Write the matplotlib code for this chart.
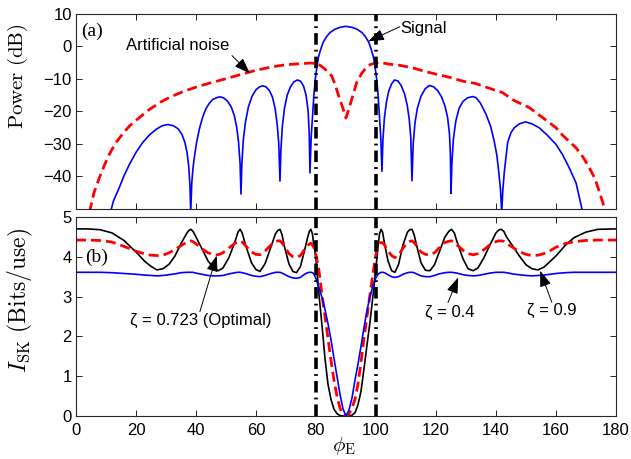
"""
Beam pattern (signal vs. artificial noise) and secret-key rate I_SK
versus eavesdropper angle phi_E, two stacked panels sharing the x axis.
"""

import matplotlib
matplotlib.use("Agg")
import matplotlib.pyplot as plt

# ─── Data ─────────────────────────────────────────────────────────────────────
# panel (a): signal power (dB)
phi_sig = [11.5, 12.5, 14.4, 16.0, 17.8, 20.0, 22.2, 24.5, 26.7, 28.7, 30.6, 32.5,
           34.0, 35.3, 36.3, 37.0, 37.6, 38.0, 38.25,
           38.6, 39.0, 39.4, 40.2, 41.1, 42.2, 43.3, 44.5, 45.6, 47.0, 48.0, 49.2,
           50.5, 51.8, 52.8, 53.6, 54.2, 54.7, 55.0,
           55.3, 55.8, 56.5, 57.5, 58.7, 60.0, 61.2, 62.2, 63.3, 64.5, 65.5, 66.4,
           67.1, 67.6, 68.0,
           68.3, 68.8, 69.5, 70.4, 71.5, 72.6, 73.8, 74.9, 75.9, 76.7, 77.4, 77.75, 78.0,
           78.4, 78.9, 79.3, 79.7, 80.2, 80.8, 81.6, 82.4, 83.5, 84.7, 86.3, 88.0,
           90.0, 92.0, 93.7, 95.3, 96.5, 97.6, 98.4, 99.2, 99.8, 100.3, 100.7, 101.1,
           101.6, 102.0,
           102.3, 102.8, 103.5, 104.3, 105.2, 106.2, 107.3, 108.4, 109.5, 110.4,
           111.1, 111.6, 112.0,
           112.4, 113.0, 113.8, 115.0, 116.4, 117.8, 119.2, 120.6, 121.9, 123.0,
           123.9, 124.5, 124.8, 125.0,
           125.3, 125.8, 126.6, 127.7, 129.0, 130.5, 132.2, 133.3, 134.8, 136.7,
           138.2, 139.4, 140.3, 140.9, 141.5, 141.9,
           142.3, 142.8, 143.9, 145.0, 146.1, 147.8, 149.8, 152.0, 154.4, 157.0,
           160.0, 162.2, 164.4, 166.7, 168.9]
sig_db = [-51.0, -47.5, -43.5, -39.8, -36.3, -32.6, -29.6, -27.2, -25.5, -24.4, -24.0, -24.4,
          -25.3, -27.0, -29.5, -32.5, -37.0, -43.0, -51.0,
          -42.0, -37.5, -34.5, -29.5, -25.5, -21.8, -19.2, -17.4, -16.3, -15.7, -15.5, -15.8,
          -16.8, -18.7, -21.3, -25.0, -29.5, -36.0, -45.4,
          -36.0, -28.5, -23.2, -18.5, -15.3, -13.3, -12.4, -12.1, -12.4, -13.6, -15.6, -19.2,
          -24.2, -30.0, -41.4,
          -32.0, -24.5, -19.0, -15.0, -12.4, -10.9, -10.3, -10.7, -12.3, -15.0, -20.0, -27.0, -38.9,
          -28.0, -20.9, -15.0, -10.6, -7.0, -3.4, -0.8, 1.3, 3.0, 4.3, 5.3, 5.9,
          6.2, 5.9, 5.3, 4.3, 3.0, 1.3, -0.8, -3.4, -7.0, -10.6, -15.0, -20.9,
          -28.0, -38.4,
          -29.0, -22.0, -17.0, -13.6, -11.5, -10.3, -10.6, -12.0, -14.5, -18.0,
          -22.5, -28.0, -41.3,
          -30.0, -23.5, -19.0, -15.3, -13.0, -12.0, -12.4, -13.6, -15.6, -18.3,
          -22.0, -27.0, -33.0, -45.2,
          -36.0, -28.5, -23.0, -19.0, -16.9, -15.8, -15.4, -15.7, -17.4, -20.9,
          -24.5, -29.1, -33.5, -38.4, -44.0, -51.0,
          -44.0, -38.4, -29.5, -26.5, -25.0, -23.8, -23.2, -23.8, -25.0, -27.2,
          -30.1, -33.3, -37.3, -42.0, -51.0]

# panel (a): artificial noise power (dB)
phi_an = [4.5, 6.0, 7.8, 9.5, 11.1, 13.0, 15.6, 18.0, 21.1, 24.0, 27.8, 31.3, 35.6,
          40.0, 44.4, 50.0, 55.0, 60.0, 65.8, 70.0, 74.7, 78.0, 80.0, 81.2, 82.4,
          83.8, 85.2, 86.3, 87.4, 88.8, 90.0, 91.2, 92.4, 93.6, 95.2, 96.5, 98.0,
          100.0, 102.0, 104.1, 108.0, 112.4, 116.0, 120.0, 125.0, 129.1, 133.3,
          137.0, 142.2, 145.8, 151.1, 155.0, 160.0, 162.4, 166.7, 169.0, 171.1,
          172.9, 174.4, 175.6, 176.4]
an_db = [-51.0, -45.0, -40.4, -36.5, -33.2, -30.0, -26.8, -24.3, -21.9, -19.7, -17.3, -15.6, -13.9,
         -12.5, -11.3, -9.9, -8.6, -7.3, -6.2, -5.6, -5.3, -5.1, -5.2, -5.7, -6.5,
         -7.6, -9.0, -11.5, -14.7, -18.5, -22.0, -18.5, -14.7, -11.0, -8.3, -6.8, -5.6,
         -5.0, -5.0, -5.4, -5.8, -6.6, -7.6, -8.5, -9.6, -10.7, -11.4,
         -12.6, -14.2, -16.5, -18.8, -21.5, -25.0, -27.5, -31.2, -34.0, -37.3,
         -40.5, -44.5, -48.0, -51.0]

# panel (b): I_SK (Bits/use) for three zeta values on a shared angle grid
phi_sk = [0, 4, 8, 12, 16, 20, 23, 25, 27, 29, 31, 33, 35, 37,
          37.6, 38.3, 39.0, 40, 42, 44, 46, 47.4, 49, 51, 53,
          54.0, 54.7, 55.4, 56.5, 58.5, 60, 61.3, 63, 65, 66.5,
          67.3, 68, 68.7, 69.5, 71, 72.3, 73.5, 74.8, 76, 77.2,
          77.8, 78.3, 78.8, 79.2,
          80, 81, 82, 83, 84, 85, 86, 87, 88, 89, 90, 91, 92, 93, 94, 95, 96, 97, 98, 99, 100,
          100.8, 101.2, 101.7, 102.2, 102.8, 104, 105.2, 106.3, 107.5, 109, 110.5,
          111.3, 112, 112.7, 113.5, 115, 116.5, 118, 119.5, 121, 123,
          124.3, 125.2, 126.1, 127, 129, 130.7, 132.4, 134, 136, 138, 140,
          140.9, 141.7, 142.6, 143.5, 145.5, 147.5, 150, 152, 154, 156, 158, 160, 163, 166,
          170, 174, 180]
sk_z09 = [4.70, 4.70, 4.68, 4.60, 4.41, 4.12, 3.88, 3.76, 3.67, 3.70, 3.81, 4.02, 4.33, 4.60,
          4.66, 4.69, 4.64, 4.50, 4.20, 3.90, 3.70, 3.65, 3.72, 3.98, 4.38,
          4.62, 4.69, 4.60, 4.30, 3.85, 3.68, 3.63, 3.82, 4.25, 4.58,
          4.66, 4.69, 4.55, 4.25, 3.82, 3.63, 3.60, 3.75, 4.10, 4.48,
          4.64, 4.69, 4.58, 4.35,
          3.95, 3.05, 2.28, 1.45, 0.80, 0.42, 0.17, 0.06, 0.01, 0.0, 0.0, 0.0, 0.02, 0.08,
          0.28, 0.62, 1.18, 1.78, 2.36, 3.02, 3.72,
          4.35, 4.58, 4.69, 4.62, 4.35, 3.90, 3.65, 3.61, 3.80, 4.30, 4.62,
          4.68, 4.69, 4.56, 4.30, 3.85, 3.66, 3.65, 3.80, 4.10, 4.50,
          4.64, 4.69, 4.60, 4.38, 3.95, 3.70, 3.65, 3.72, 3.98, 4.30, 4.60,
          4.67, 4.69, 4.64, 4.50, 4.28, 4.05, 3.80, 3.70, 3.67, 3.74, 3.88, 4.02, 4.28, 4.48,
          4.62, 4.69, 4.70]
sk_z0723 = [4.42, 4.42, 4.41, 4.37, 4.26, 4.14, 4.07, 4.04, 4.03, 4.04, 4.10, 4.18, 4.28, 4.37,
            4.39, 4.40, 4.38, 4.33, 4.20, 4.10, 4.05, 4.05, 4.10, 4.22, 4.34,
            4.38, 4.40, 4.37, 4.28, 4.12, 4.06, 4.05, 4.14, 4.30, 4.38,
            4.40, 4.40, 4.35, 4.26, 4.08, 4.00, 3.98, 4.03, 4.16, 4.28,
            4.32, 4.34, 4.30, 4.25,
            4.05, 3.65, 3.05, 2.50, 1.95, 1.40, 0.90, 0.50, 0.20, 0.03, 0.0, 0.05, 0.20, 0.42,
            0.80, 1.35, 1.95, 2.50, 3.05, 3.58, 4.05,
            4.30, 4.34, 4.36, 4.35, 4.30, 4.15, 4.03, 3.98, 4.03, 4.22, 4.36,
            4.39, 4.40, 4.36, 4.28, 4.12, 4.06, 4.05, 4.10, 4.22, 4.36,
            4.39, 4.40, 4.37, 4.30, 4.16, 4.08, 4.05, 4.08, 4.18, 4.30, 4.38,
            4.40, 4.40, 4.39, 4.34, 4.24, 4.14, 4.06, 4.03, 4.04, 4.08, 4.15, 4.24, 4.33, 4.38,
            4.41, 4.42, 4.42]
sk_z04 = [3.61, 3.61, 3.61, 3.60, 3.58, 3.56, 3.54, 3.53, 3.52, 3.53, 3.55, 3.57, 3.60, 3.61,
          3.61, 3.61, 3.61, 3.59, 3.56, 3.53, 3.52, 3.52, 3.53, 3.57, 3.60,
          3.61, 3.61, 3.60, 3.58, 3.53, 3.51, 3.50, 3.53, 3.58, 3.61,
          3.61, 3.61, 3.59, 3.56, 3.50, 3.47, 3.46, 3.48, 3.55, 3.60,
          3.61, 3.61, 3.60, 3.58,
          3.45, 3.22, 2.98, 2.68, 2.32, 1.92, 1.45, 1.00, 0.55, 0.18, 0.0, 0.15, 0.45, 0.90,
          1.30, 1.75, 2.22, 2.65, 3.00, 3.28, 3.48,
          3.57, 3.59, 3.61, 3.61, 3.60, 3.55, 3.50, 3.48, 3.50, 3.56, 3.60,
          3.61, 3.61, 3.60, 3.57, 3.52, 3.50, 3.50, 3.53, 3.57, 3.60,
          3.61, 3.61, 3.60, 3.59, 3.55, 3.53, 3.52, 3.53, 3.56, 3.59, 3.61,
          3.61, 3.61, 3.61, 3.60, 3.57, 3.55, 3.53, 3.52, 3.53, 3.54, 3.56, 3.58, 3.60, 3.61,
          3.61, 3.61, 3.61]

x_ticks = [0, 20, 40, 60, 80, 100, 120, 140, 160, 180]
db_ticks = [-40, -30, -20, -10, 0, 10]
sk_ticks = [0, 1, 2, 3, 4, 5]
boundaries = [80, 100]   # dash-dot markers of the main beam

# ─── Styling ──────────────────────────────────────────────────────────────────
SANS = ["Liberation Sans", "DejaVu Sans"]
plt.rcParams["font.family"] = SANS
plt.rcParams["mathtext.fontset"] = "cm"
TICK_FS = 12
NOTE_FS = 12
DASH_RED = (0, (3.6, 1.8))
DASH_DOT = (0, (3.2, 1.4, 0.5, 1.4))
ARROW = dict(arrowstyle="-|>,head_length=0.7,head_width=0.25",
             color="k", lw=0.7, mutation_scale=14, shrinkA=0, shrinkB=0)


def style_axes(ax, yticks):
    ax.set_xlim(0, 180)
    ax.set_xticks(x_ticks)
    ax.set_yticks(yticks)
    ax.tick_params(direction="in", top=True, right=True, length=4, width=0.6,
                   labelsize=TICK_FS)
    ax.tick_params(axis="y", pad=3)
    ax.tick_params(axis="x", pad=5)
    for sp in ax.spines.values():
        sp.set_linewidth(0.8)
        sp.set_color("0.15")
    for b in boundaries:
        ax.axvline(b, color="k", lw=2.6, ls=DASH_DOT, zorder=5)


fig = plt.figure(figsize=(6.31, 4.59), dpi=100)
ax_a = fig.add_axes([0.1204, 0.5447, 0.8558, 0.4248])
ax_b = fig.add_axes([0.1204, 0.0937, 0.8558, 0.4336])

# ── Panel (a) ─────────────────────────────────────────────────────────────────
ax_a.plot(phi_an, an_db, color="red", lw=2.0, ls=DASH_RED)
ax_a.plot(phi_sig, sig_db, color="blue", lw=1.2)
ax_a.set_ylim(-50, 10)
style_axes(ax_a, db_ticks)
ax_a.set_xticklabels([])
ax_a.set_yticklabels(["\u221240", "\u221230", "\u221220", "\u221210", "0", "10"])

ax_a.text(5.3, 4.7, "(a)", family="Liberation Serif", fontsize=14,
          ha="center", va="center")
ax_a.text(33.8, 0.4, "Artificial noise", fontsize=NOTE_FS, ha="center", va="center")
ax_a.annotate("", xy=(58, -8.3), xytext=(52, -2.8), arrowprops=ARROW)
ax_a.text(116, 5.4, "Signal", fontsize=NOTE_FS, ha="center", va="center")
ax_a.annotate("", xy=(97.4, 1.6), xytext=(108, 6.1), arrowprops=ARROW)

# ── Panel (b) ─────────────────────────────────────────────────────────────────
ax_b.plot(phi_sk, sk_z09, color="black", lw=1.2)
ax_b.plot(phi_sk, sk_z0723, color="red", lw=2.0, ls=DASH_RED)
ax_b.plot(phi_sk, sk_z04, color="blue", lw=1.2)
ax_b.set_ylim(0, 5)
style_axes(ax_b, sk_ticks)

ax_b.text(6.7, 3.98, "(b)", family="Liberation Serif", fontsize=14,
          ha="center", va="center")
ax_b.text(41.7, 2.4, "\u03b6 = 0.723 (Optimal)", fontsize=NOTE_FS,
          ha="center", va="center")
ax_b.annotate("", xy=(46.9, 4.03), xytext=(41.3, 2.62), arrowprops=ARROW)
ax_b.text(124.5, 2.6, "\u03b6 = 0.4", fontsize=NOTE_FS, ha="center", va="center")
ax_b.annotate("", xy=(127.4, 3.48), xytext=(124, 2.85), arrowprops=ARROW)
ax_b.text(158.5, 2.65, "\u03b6 = 0.9", fontsize=NOTE_FS, ha="center", va="center")
ax_b.annotate("", xy=(154.7, 3.65), xytext=(158.6, 2.86), arrowprops=ARROW)

# ── Axis labels (placed by hand like the original) ────────────────────────────
fig.text(18 / 631, 1 - 76 / 459, r"$\mathrm{Power\ (dB)}$", rotation=90,
         fontsize=15, ha="center", va="center")
fig.text(20 / 631, 1 - 300 / 459, r"$I_{\mathrm{SK}}\ \mathrm{(Bits/use)}$",
         rotation=90, fontsize=17, ha="center", va="center")
fig.text(344 / 631, 1 - 446 / 459, r"$\phi_{\mathrm{E}}$", fontsize=15,
         ha="center", va="center")

fig.savefig("out.png", dpi=100)
